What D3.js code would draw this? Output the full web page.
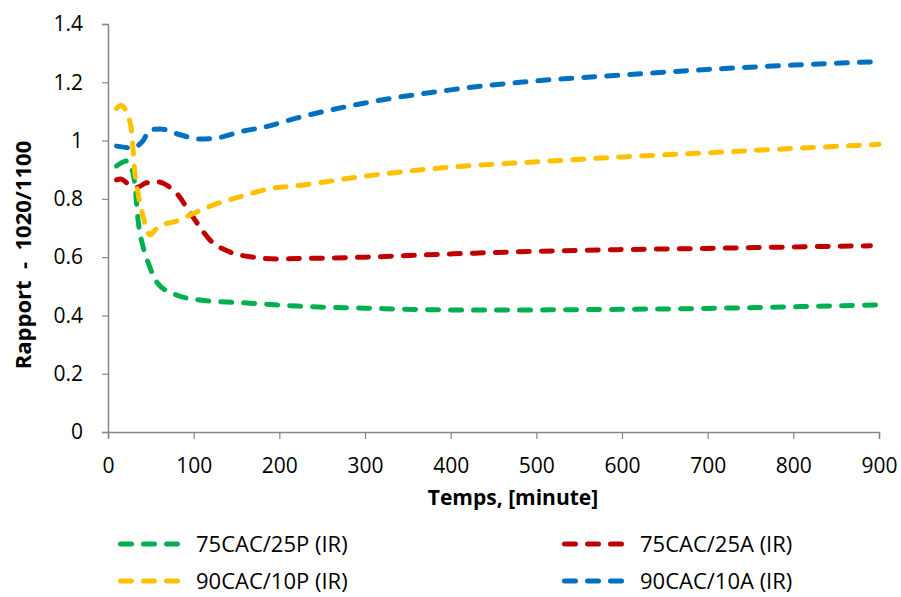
<html>
<head>
<script src="https://cdn.jsdelivr.net/npm/d3@7"></script>
<style>
  body { margin: 0; background: #fff; }
  text { font-family: "Open Sans", sans-serif; fill: #000; }
</style>
</head>
<body>
<svg id="chart" width="901" height="597"></svg>
<script>
// series
const greenT = [10, 22, 29, 32, 35, 41, 47, 58, 80, 107, 139, 166, 220, 300, 400, 500, 600, 700, 800, 900];
const greenV = [0.913, 0.93, 0.89, 0.83, 0.73, 0.635, 0.58, 0.51, 0.47, 0.453, 0.446, 0.442, 0.432, 0.425, 0.419, 0.419, 0.421, 0.424, 0.43, 0.436];

const redT = [10, 15, 22, 34, 45, 58, 72, 82, 92, 104, 119, 142, 169, 197, 220, 300, 400, 500, 600, 700, 800, 890];
const redV = [0.865, 0.868, 0.855, 0.84, 0.855, 0.858, 0.84, 0.813, 0.769, 0.717, 0.659, 0.618, 0.6, 0.594, 0.595, 0.6, 0.611, 0.62, 0.626, 0.63, 0.635, 0.639];

const yellowT = [10, 15, 26, 29, 31, 35, 41, 49, 55, 61, 76, 96, 123, 154, 193, 220, 300, 400, 500, 600, 700, 800, 900];
const yellowV = [1.11, 1.12, 1.06, 0.98, 0.9, 0.82, 0.74, 0.676, 0.693, 0.71, 0.72, 0.745, 0.779, 0.807, 0.837, 0.845, 0.878, 0.909, 0.927, 0.944, 0.958, 0.973, 0.987];

const blueT = [10, 28, 33, 41, 49, 61, 84, 107, 131, 154, 185, 220, 300, 400, 500, 600, 700, 800, 900];
const blueV = [0.981, 0.975, 0.979, 1.0, 1.036, 1.04, 1.02, 1.005, 1.011, 1.03, 1.048, 1.077, 1.129, 1.174, 1.205, 1.225, 1.244, 1.259, 1.271];

const xTicks = [0, 100, 200, 300, 400, 500, 600, 700, 800, 900];
const yTicks = [0, 0.2, 0.4, 0.6, 0.8, 1, 1.2, 1.4];

const series = [
  {name: "75CAC/25P (IR)", t: greenT, v: greenV, color: "#00b050"},
  {name: "75CAC/25A (IR)", t: redT, v: redV, color: "#c00000"},
  {name: "90CAC/10P (IR)", t: yellowT, v: yellowV, color: "#ffc000"},
  {name: "90CAC/10A (IR)", t: blueT, v: blueV, color: "#0070c0"}
];

const svg = d3.select("#chart");
const x = d3.scaleLinear().domain([0, 900]).range([108, 879]);
const y = d3.scaleLinear().domain([0, 1.4]).range([432, 24]);
const axisColor = "#868686";

// x axis
const gx = svg.append("g").attr("transform", "translate(0,432)")
  .call(d3.axisBottom(x).tickValues(xTicks).tickSize(7).tickPadding(19).tickFormat(d3.format("d")));
// y axis
const gy = svg.append("g").attr("transform", "translate(108,0)")
  .call(d3.axisLeft(y).tickValues(yTicks).tickSize(6).tickPadding(19).tickFormat(d => String(d)));

[gx, gy].forEach(g => {
  g.select(".domain").attr("stroke", axisColor).attr("stroke-width", 1.5);
  g.selectAll(".tick line").attr("stroke", axisColor).attr("stroke-width", 1.2);
  g.selectAll(".tick text").style("font-family", "'Open Sans', sans-serif").style("font-size", "21px").attr("fill", "#000");
});

// lines
const line = d3.line().x(d => x(d[0])).y(d => y(d[1])).curve(d3.curveMonotoneX);
series.forEach(s => {
  svg.append("path")
    .datum(d3.zip(s.t, s.v))
    .attr("d", line)
    .attr("fill", "none")
    .attr("stroke", s.color)
    .attr("stroke-width", 5)
    .attr("stroke-linecap", "round")
    .attr("stroke-dasharray", "11,12");
});

// axis titles
svg.append("text")
  .attr("x", 513).attr("y", 505)
  .attr("text-anchor", "middle")
  .style("font-size", "21px").style("font-weight", "bold")
  .text("Temps, [minute]");

svg.append("text")
  .attr("transform", "translate(31,255) rotate(-90)")
  .attr("text-anchor", "middle")
  .style("font-size", "22px").style("font-weight", "bold")
  .attr("xml:space", "preserve")
  .text("Rapport  -  1020/1100");

// legend
const legPos = [[118, 544], [562, 544], [118, 581], [562, 581]];
series.forEach((s, i) => {
  const [lx, ly] = legPos[i];
  svg.append("line")
    .attr("x1", lx + 2.5).attr("x2", lx + 59.5)
    .attr("y1", ly).attr("y2", ly)
    .attr("stroke", s.color)
    .attr("stroke-width", 5)
    .attr("stroke-linecap", "round")
    .attr("stroke-dasharray", "11,12");
  svg.append("text")
    .attr("x", lx + 78).attr("y", ly + 8)
    .style("font-size", "22px")
    .text(s.name);
});
</script>
</body>
</html>
